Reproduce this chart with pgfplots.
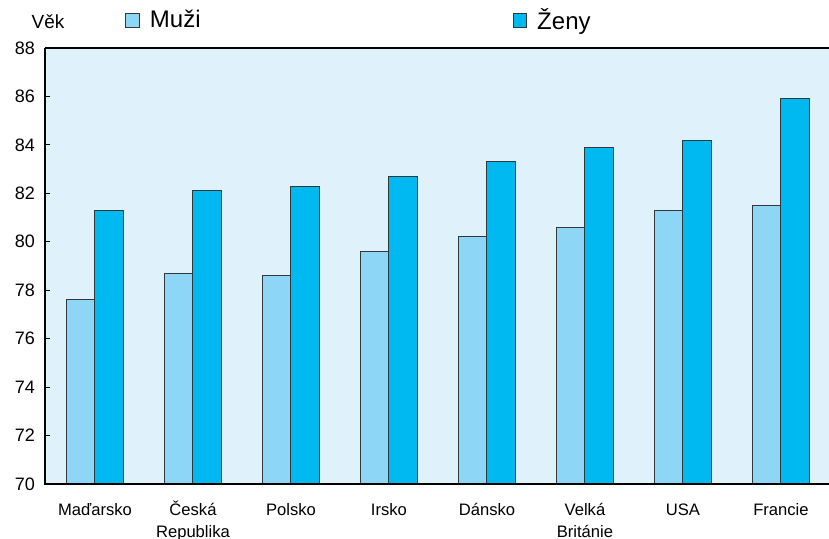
\documentclass[border=0pt]{standalone}
\usepackage{fontspec}
\setmainfont{Liberation Sans}
\usepackage{pgfplots}
\pgfplotsset{compat=1.18}
\definecolor{muzi}{RGB}{142,214,245}
\definecolor{zeny}{RGB}{0,185,240}
\definecolor{bgc}{RGB}{223,242,251}
\definecolor{edge}{RGB}{50,55,60}
\newcommand{\st}{\rule{0pt}{8.3pt}}
\begin{document}
\begin{tikzpicture}
\useasboundingbox (-22.5pt,-27.5pt) rectangle (392pt,242pt);
\begin{axis}[
  scale only axis,
  width=392pt, height=218pt,
  xmin=-0.51, xmax=7.49,
  ymin=70, ymax=88,
  ytick={70,72,...,88},
  xtick={0,...,7},
  xticklabels={\st Maďarsko,\st Česká\\Republika,\st Polsko,\st Irsko,\st Dánsko,\st Velká\\Británie,\st USA,\st Francie},
  xticklabel style={align=center, font=\fontsize{8.3}{10.8}\selectfont, anchor=north, inner sep=0pt, yshift=-5pt},
  yticklabel style={font=\fontsize{9}{10}\selectfont, xshift=-1.5pt},
  /pgf/number format/assume math mode=true,
  major x tick style={draw=none},
  tick pos=left,
  ytick align=inside,
  major tick length=2.5pt,
  tick style={black, line width=0.5pt},
  axis line style={draw=none},
  axis background/.style={fill=bgc},
  ybar, bar width=0.286,
  area legend,
  legend columns=2,
  legend style={draw=none, fill=none, at={(0.102,1.063)}, anchor=west,
    font=\fontsize{12}{12}\selectfont, inner sep=0pt,
    /tikz/every odd column/.append style={column sep=3pt},
    /tikz/every even column/.append style={column sep=154pt}},
  legend image code/.code={\draw[#1, draw=edge, line width=0.5pt] (0pt,-3.3pt) rectangle (6.8pt,3.3pt);},
  clip=false,
]
\addplot[fill=muzi, draw=edge, line width=0.5pt, bar shift=-0.143] coordinates {
(0,77.6) (1,78.7) (2,78.6) (3,79.6) (4,80.2) (5,80.6) (6,81.3) (7,81.5)};
\addplot[fill=zeny, draw=edge, line width=0.5pt, bar shift=0.143] coordinates {
(0,81.3) (1,82.1) (2,82.3) (3,82.7) (4,83.3) (5,83.9) (6,84.2) (7,85.9)};
\legend{Muži,Ženy}
\draw[black, line width=0.8pt] (rel axis cs:0,1) -- (rel axis cs:0,0) -- (rel axis cs:1,0);
\draw[black, line width=0.8pt] (rel axis cs:0,1) -- (rel axis cs:1,1);
\node[font=\fontsize{9.5}{10}\selectfont, xshift=1.5pt, yshift=13pt] at (rel axis cs:0,1) {Věk};
\end{axis}
\end{tikzpicture}
\end{document}
